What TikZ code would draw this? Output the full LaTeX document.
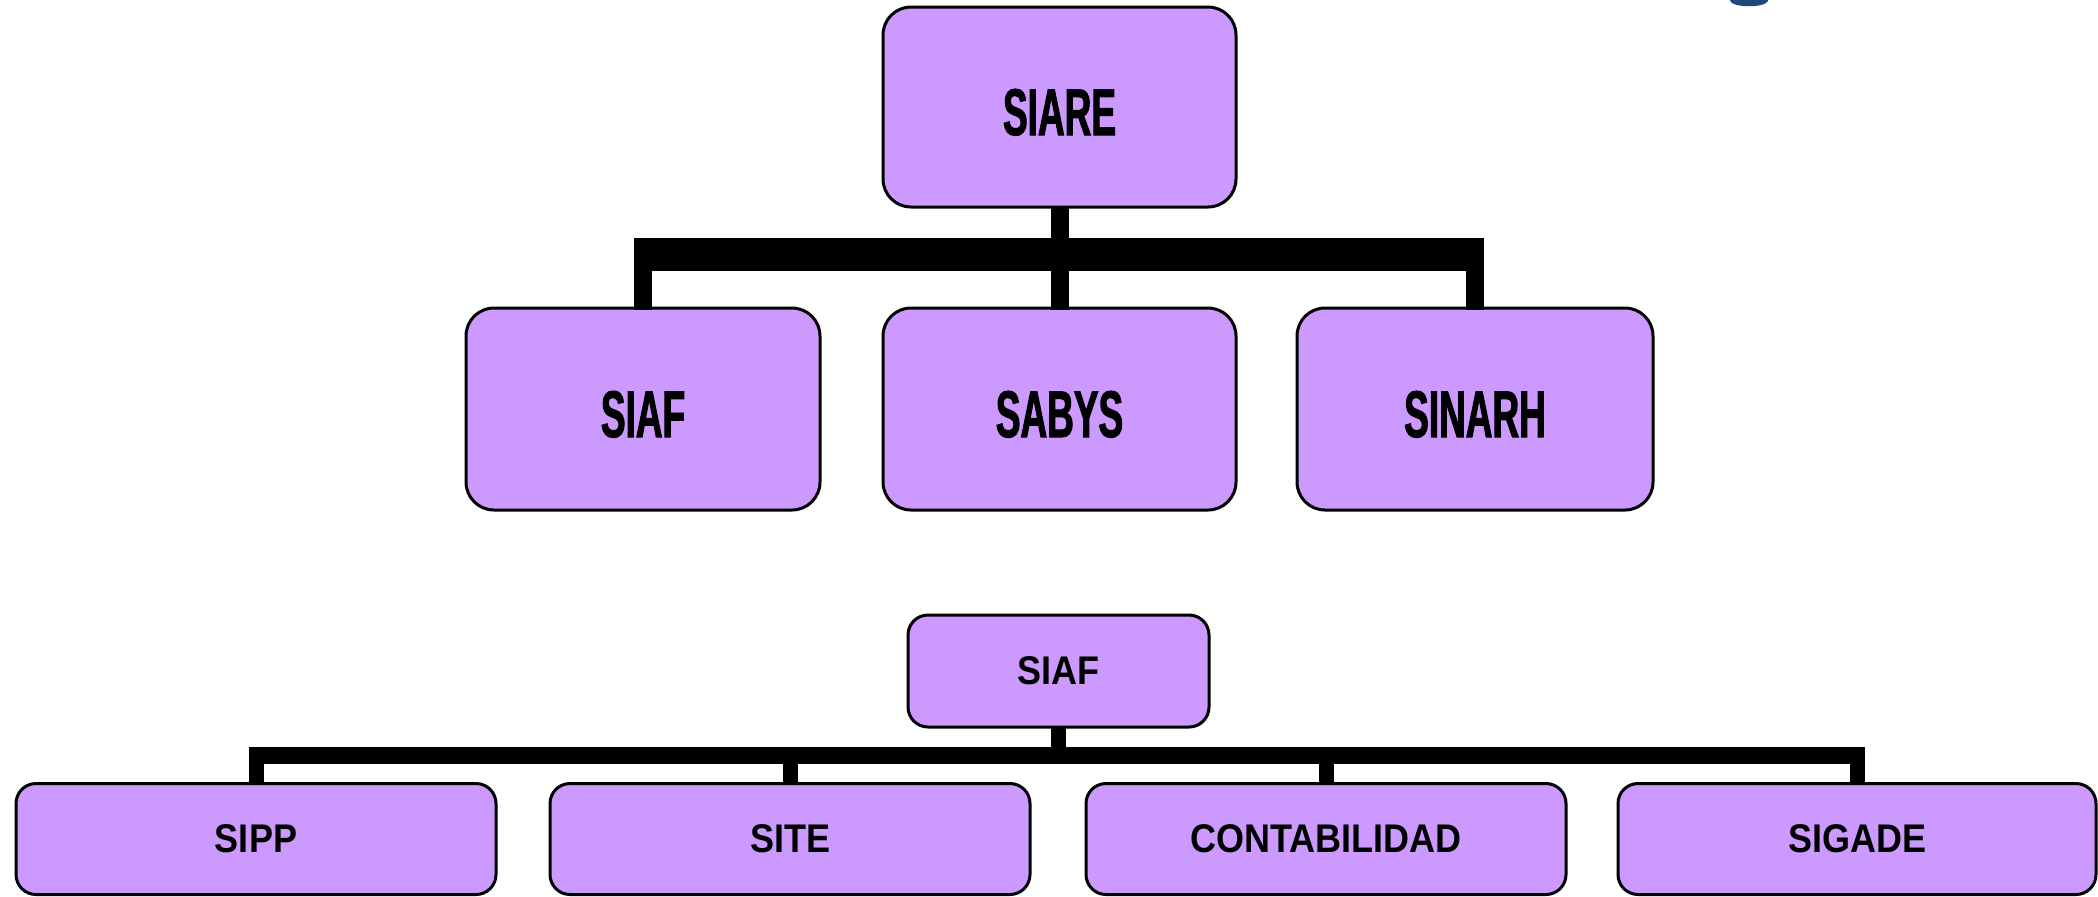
\documentclass[tikz,border=0pt]{standalone}
\usepackage{fontspec}
\setmainfont{Liberation Sans}
\newfontfamily\bigfont{Liberation Sans}[FakeStretch=0.56,FakeBold=1.5]
\newfontfamily\smallfont{Liberation Sans}[FakeStretch=0.9]
\definecolor{lav}{HTML}{CC99FF}
\definecolor{navyblob}{RGB}{31,73,125}
\tikzset{
  bigbox/.style={draw=black, fill=lav, line width=1.5pt, rounded corners=14pt,
    inner sep=0pt, outer sep=0pt, text height=28pt, text depth=0pt,
    font=\bigfont\bfseries\fontsize{33pt}{36pt}\selectfont},
  smallbox/.style={draw=black, fill=lav, line width=1.5pt, rounded corners=10pt,
    inner sep=0pt, outer sep=0pt, font=\smallfont\bfseries\fontsize{20pt}{24pt}\selectfont},
  topbar/.style={line width=16.5pt, line cap=butt},
  topstem/.style={line width=9pt, line cap=butt},
  lowbar/.style={line width=8.5pt, line cap=butt},
  lowstem/.style={line width=7.5pt, line cap=butt}
}
\begin{document}
\begin{tikzpicture}[x=0.5pt, y=-0.5pt]
\useasboundingbox (0,0) rectangle (2098,896);
\clip (0,0) rectangle (2098,896);
\fill[white] (0,0) rectangle (2098,896);

% small blue fragment at top
\fill[navyblob] (1730,0) -- (1730,1) .. controls (1733,8) and (1765,8) .. (1768,1) -- (1768,0) -- cycle;

% top chart
\node[bigbox, minimum width=176.5pt, minimum height=100pt] (siare) at (1059.5,107) {SIARE};
\node[bigbox, minimum width=177pt, minimum height=101pt] (siaf) at (643,409) {SIAF};
\node[bigbox, minimum width=176.5pt, minimum height=101pt] (sabys) at (1059.5,409) {SABYS};
\node[bigbox, minimum width=178pt, minimum height=101pt] (sinarh) at (1475,409) {SINARH};
\coordinate (jt) at (1059.5,254.5);

\draw[topstem] ([yshift=0.75pt]siare.south) -- (siare.south |- jt);
\draw[topstem] ([yshift=-0.75pt]siaf.north) -- (siaf.north |- jt);
\draw[topstem] ([yshift=-0.75pt]sabys.north) -- (sabys.north |- jt);
\draw[topstem] ([yshift=-0.75pt]sinarh.north) -- (sinarh.north |- jt);
\draw[topbar] ([xshift=-4.5pt]siaf.north |- jt) -- ([xshift=4.5pt]sinarh.north |- jt);

% bottom chart
\node[smallbox, minimum width=150.5pt, minimum height=56pt] (siafb) at (1058.5,671) {SIAF};
\node[smallbox, minimum width=240pt, minimum height=55.5pt] (sipp) at (256,839) {SIPP};
\node[smallbox, minimum width=240pt, minimum height=55.5pt] (site) at (790,839) {SITE};
\node[smallbox, minimum width=240pt, minimum height=55.5pt] (conta) at (1326,839) {CONTABILIDAD};
\node[smallbox, minimum width=239pt, minimum height=55.5pt] (sigade) at (1857,839) {SIGADE};
\coordinate (jb) at (1058.5,755.5);

\draw[lowstem] ([yshift=0.75pt]siafb.south) -- (siafb.south |- jb);
\draw[lowstem] ([yshift=-0.75pt]sipp.north) -- (sipp.north |- jb);
\draw[lowstem] ([yshift=-0.75pt]site.north) -- (site.north |- jb);
\draw[lowstem] ([yshift=-0.75pt]conta.north) -- (conta.north |- jb);
\draw[lowstem] ([yshift=-0.75pt]sigade.north) -- (sigade.north |- jb);
\draw[lowbar] ([xshift=-3.75pt]sipp.north |- jb) -- ([xshift=3.75pt]sigade.north |- jb);
\end{tikzpicture}
\end{document}
